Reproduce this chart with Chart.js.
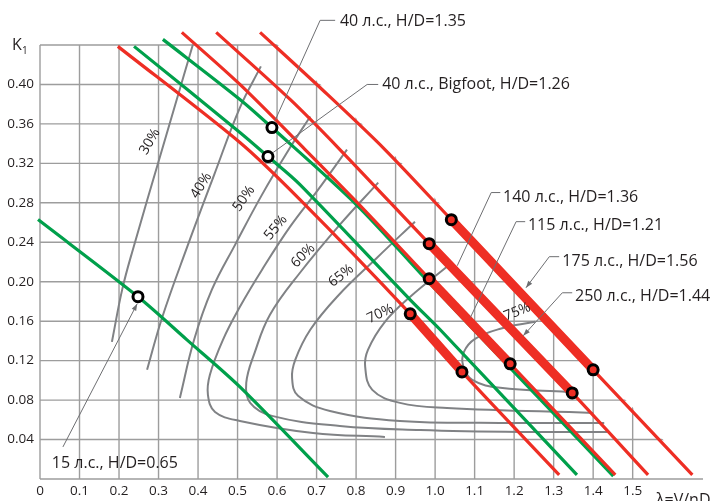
<!DOCTYPE html>
<html>
<head>
<meta charset="utf-8">
<script src="https://cdn.jsdelivr.net/npm/chart.js@4.4.1/dist/chart.umd.min.js"></script>
<style>
  html, body { margin: 0; padding: 0; background: #fff; }
  #wrap { width: 716px; height: 501px; }
</style>
</head>
<body>
<div id="wrap"><canvas id="propChart"></canvas></div>
<script>
// Axis ticks
const lambdaTicks = [0, 0.1, 0.2, 0.3, 0.4, 0.5, 0.6, 0.7, 0.8, 0.9, 1.0, 1.1, 1.2, 1.3, 1.4, 1.5];
const kTicks = [0.04, 0.08, 0.12, 0.16, 0.20, 0.24, 0.28, 0.32, 0.36, 0.40];
const kGrid = [0.04, 0.08, 0.12, 0.16, 0.20, 0.24, 0.28, 0.32, 0.36, 0.40, 0.44];

// Propeller curves, K1 vs lambda (red)
const redALambda = [0.197, 0.506, 0.658, 0.937, 1.068, 1.314];
const redAK = [0.4386, 0.3411, 0.2832, 0.1675, 0.1086, 0.0041];
const redDLambda = [0.359, 0.506, 0.671, 0.803, 0.985, 1.190, 1.456];
const redDK = [0.4528, 0.4000, 0.3340, 0.2802, 0.2030, 0.1168, 0.0041];
const redELambda = [0.446, 0.633, 0.759, 0.985, 1.347, 1.539];
const redEK = [0.4528, 0.3848, 0.3340, 0.2386, 0.0873, 0.0041];
const redFLambda = [0.557, 0.714, 0.873, 1.041, 1.400, 1.651];
const redFK = [0.4528, 0.3949, 0.3340, 0.2629, 0.1107, 0.0041];

// operating ranges on the red curves (index from, index to)
const opA = [3, 4];
const opD = [4, 5];
const opE = [3, 4];
const opF = [3, 4];

// green curves
const greenBLambda = [0.238, 0.506, 0.577, 0.658, 0.937, 1.013, 1.359];
const greenBK = [0.4386, 0.3513, 0.3269, 0.2985, 0.1817, 0.1513, 0.0041];
const greenCLambda = [0.311, 0.506, 0.587, 0.803, 0.985, 1.190, 1.451];
const greenCK = [0.4457, 0.3848, 0.3563, 0.2772, 0.1990, 0.1127, 0.0030];
const green15Lambda = [-0.005, 0.248, 0.372, 0.506, 0.729];
const green15K = [0.2630, 0.1848, 0.1411, 0.0934, 0.0020];

// points marked on the green curves (index)
const ptB = 2, ptC = 2, pt15 = 1;

// efficiency curves
const eff30Lambda = [0.182, 0.208, 0.235, 0.309, 0.387];
const eff30K = [0.139, 0.192, 0.2325, 0.334, 0.4406];
const eff40Lambda = [0.271, 0.309, 0.370, 0.441, 0.506, 0.559];
const eff40K = [0.1107, 0.1635, 0.2325, 0.3086, 0.3766, 0.4183];
const eff50Lambda = [0.354, 0.390, 0.435, 0.494, 0.562, 0.633, 0.684];
const eff50K = [0.0822, 0.1411, 0.1919, 0.2376, 0.2883, 0.3360, 0.3675];
const eff55Lambda = [0.777, 0.704, 0.633, 0.562, 0.506, 0.463, 0.430, 0.425, 0.443, 0.506, 0.691, 0.873];
const eff55K = [0.334, 0.2934, 0.2558, 0.2122, 0.1746, 0.1411, 0.1056, 0.0853, 0.068, 0.0589, 0.0467, 0.0426];
const eff60Lambda = [0.856, 0.759, 0.658, 0.582, 0.544, 0.522, 0.532, 0.587, 0.759, 0.962, 1.215, 1.435];
const eff60K = [0.3005, 0.2579, 0.2091, 0.1665, 0.1289, 0.0975, 0.0772, 0.064, 0.0538, 0.0497, 0.0477, 0.0477];
const eff65Lambda = [0.949, 0.853, 0.752, 0.684, 0.646, 0.638, 0.653, 0.734, 0.911, 1.165, 1.428];
const eff65K = [0.2609, 0.2244, 0.1848, 0.1513, 0.1208, 0.1025, 0.0843, 0.069, 0.0589, 0.0569, 0.0569];
const eff70Lambda = [1.033, 0.937, 0.873, 0.830, 0.823, 0.841, 0.911, 1.030, 1.400];
const eff70K = [0.2162, 0.1848, 0.1594, 0.131, 0.1137, 0.0904, 0.0772, 0.0721, 0.067];
const eff75Lambda = [1.253, 1.165, 1.101, 1.073, 1.071, 1.094, 1.165, 1.334];
const eff75K = [0.1594, 0.1523, 0.1421, 0.1289, 0.1147, 0.1005, 0.0924, 0.0883];

const effLabels = ['30%', '40%', '50%', '55%', '60%', '65%', '70%', '75%'];

const RED = '#ee2e24';
const GREEN = '#00a04b';
const GRAY = '#808285';
const TEXT = '#231f20';
const FONT = '"Open Sans", sans-serif';

const pts = (lam, k) => lam.map((v, i) => ({x: v, y: k[i]}));

function curve(lam, k, color, width, order) {
    return {
        data: pts(lam, k), showLine: true, borderColor: color, borderWidth: width,
        pointRadius: 0, tension: 0.3, clip: false, order: order
    };
}
function effCurve(lam, k) {
    return {
        data: pts(lam, k), showLine: true, borderColor: GRAY, borderWidth: 2,
        pointRadius: 0, tension: 0.4, clip: false, order: 20
    };
}
function opSegment(lam, k, r) {
    return curve(lam.slice(r[0], r[1] + 1), k.slice(r[0], r[1] + 1), RED, 9, 3);
}

const redLines = [[redALambda, redAK, opA], [redDLambda, redDK, opD], [redELambda, redEK, opE], [redFLambda, redFK, opF]];

const markerData = [], markerFill = [];
redLines.forEach(([lam, k, r]) => {
    r.forEach(i => { markerData.push({x: lam[i], y: k[i]}); markerFill.push(RED); });
});
[[greenBLambda, greenBK, ptB], [greenCLambda, greenCK, ptC], [green15Lambda, green15K, pt15]].forEach(([lam, k, i]) => {
    markerData.push({x: lam[i], y: k[i]}); markerFill.push('#ffffff');
});

const datasets = [
    effCurve(eff30Lambda, eff30K), effCurve(eff40Lambda, eff40K), effCurve(eff50Lambda, eff50K),
    effCurve(eff55Lambda, eff55K), effCurve(eff60Lambda, eff60K), effCurve(eff65Lambda, eff65K),
    effCurve(eff70Lambda, eff70K), effCurve(eff75Lambda, eff75K),
    curve(green15Lambda, green15K, GREEN, 3.2, 9),
    curve(greenBLambda, greenBK, GREEN, 3.2, 9),
    curve(greenCLambda, greenCK, GREEN, 3.2, 9),
    curve(redALambda, redAK, RED, 3.2, 8),
    curve(redDLambda, redDK, RED, 3.2, 8),
    curve(redELambda, redEK, RED, 3.2, 8),
    curve(redFLambda, redFK, RED, 3.2, 8),
    ...redLines.map(([lam, k, r]) => opSegment(lam, k, r)),
    {
        data: markerData, showLine: false, pointRadius: 5, pointBorderWidth: 3,
        pointBorderColor: '#000', pointBackgroundColor: markerFill, clip: false, order: 1
    }
];

// label placement (lambda, K1) and rotation
const effLabelPos = [[0.278, 0.3421, -60], [0.408, 0.2975, -58], [0.516, 0.2843, -55], [0.597, 0.2548, -50],
    [0.666, 0.2264, -45], [0.762, 0.2061, -38], [0.861, 0.1675, -25], [1.208, 0.1695, -22]];

const callouts = [
    {text: '40 л.с., H/D=1.35', at: [0.759, 0.4643], path: [[0.747, 0.4650], [0.709, 0.4650], [0.595, 0.3635]]},
    {text: '40 л.с., Bigfoot, H/D=1.26', at: [0.866, 0.4000], path: [[0.856, 0.4000], [0.828, 0.4000], [0.590, 0.3310]]},
    {text: '140 л.с., H/D=1.36', at: [1.172, 0.2853], path: [[1.165, 0.2904], [1.142, 0.2904], [1.056, 0.2162]]},
    {text: '115 л.с., H/D=1.21', at: [1.235, 0.2569], path: [[1.228, 0.2609], [1.205, 0.2609], [1.089, 0.1635]]},
    {text: '175 л.с., H/D=1.56', at: [1.322, 0.2203], path: [[1.314, 0.2254], [1.289, 0.2254], [1.230, 0.1939]], arrow: true},
    {text: '250 л.с., H/D=1.44', at: [1.354, 0.1848], path: [[1.347, 0.1888], [1.322, 0.1888], [1.223, 0.1452]], arrow: true},
    {text: '15 л.с., H/D=0.65', at: [0.030, 0.0162], path: [[0.058, 0.0325], [0.246, 0.1777]], arrow: true}
];

const gridPlugin = {
    id: 'clippedGrid',
    beforeDatasetsDraw(chart) {
        const {ctx, scales: {x, y}} = chart;
        const px = v => x.getPixelForValue(v), py = v => y.getPixelForValue(v);
        ctx.save();
        // grid only below the outer propeller curve
        ctx.beginPath();
        ctx.moveTo(px(0) - 2, py(0));
        ctx.lineTo(px(0) - 2, py(0.46));
        redFLambda.forEach((l, i) => ctx.lineTo(px(l) + 4, py(redFK[i])));
        ctx.lineTo(px(redFLambda[redFLambda.length - 1]) + 4, py(0));
        ctx.closePath();
        ctx.clip();
        ctx.strokeStyle = '#9d9d9d';
        ctx.lineWidth = 1.4;
        lambdaTicks.forEach(v => {
            ctx.beginPath(); ctx.moveTo(px(v), py(0)); ctx.lineTo(px(v), py(0.44)); ctx.stroke();
        });
        kGrid.forEach(v => {
            ctx.beginPath(); ctx.moveTo(px(0), py(v)); ctx.lineTo(x.right, py(v)); ctx.stroke();
        });
        ctx.restore();
        ctx.save();
        ctx.strokeStyle = '#9d9d9d';
        ctx.lineWidth = 1.6;
        ctx.beginPath(); ctx.moveTo(px(0), py(0)); ctx.lineTo(x.right, py(0)); ctx.stroke();
        ctx.restore();
    }
};

function arrowHead(ctx, x0, y0, x1, y1) {
    const a = Math.atan2(y1 - y0, x1 - x0), len = 7, w = 2.5;
    ctx.beginPath();
    ctx.moveTo(x1, y1);
    ctx.lineTo(x1 - len * Math.cos(a) + w * Math.sin(a), y1 - len * Math.sin(a) - w * Math.cos(a));
    ctx.lineTo(x1 - len * Math.cos(a) - w * Math.sin(a), y1 - len * Math.sin(a) + w * Math.cos(a));
    ctx.closePath();
    ctx.fill();
}

const labelPlugin = {
    id: 'labels',
    afterDatasetsDraw(chart) {
        const {ctx, scales: {x, y}} = chart;
        const px = v => x.getPixelForValue(v), py = v => y.getPixelForValue(v);
        ctx.save();
        ctx.fillStyle = TEXT;
        ctx.font = '14px ' + FONT;
        ctx.textAlign = 'center';
        ctx.textBaseline = 'middle';
        effLabels.forEach((t, i) => {
            const [l, k, rot] = effLabelPos[i];
            ctx.save();
            ctx.translate(px(l), py(k));
            ctx.rotate(rot * Math.PI / 180);
            ctx.fillText(t, 0, 0);
            ctx.restore();
        });
        // callouts
        ctx.strokeStyle = '#6d6e71';
        ctx.fillStyle = '#6d6e71';
        ctx.lineWidth = 1;
        callouts.forEach(c => {
            const p = c.path.map(([l, k]) => [px(l), py(k)]);
            ctx.beginPath();
            ctx.moveTo(p[0][0], p[0][1]);
            p.slice(1).forEach(q => ctx.lineTo(q[0], q[1]));
            ctx.stroke();
            if (c.arrow) {
                const n = p.length;
                arrowHead(ctx, p[n - 2][0], p[n - 2][1], p[n - 1][0], p[n - 1][1]);
            }
        });
        ctx.fillStyle = TEXT;
        ctx.font = '16px ' + FONT;
        ctx.textAlign = 'left';
        callouts.forEach(c => ctx.fillText(c.text, px(c.at[0]), py(c.at[1])));
        // axis titles
        ctx.font = '16px ' + FONT;
        ctx.textBaseline = 'alphabetic';
        ctx.fillText('K', 12, 50);
        ctx.font = '10px ' + FONT;
        ctx.fillText('1', 22, 54);
        ctx.font = '16px ' + FONT;
        ctx.fillText('λ=V/nD', 656, 505);
        ctx.restore();
    }
};

const ctx = document.getElementById('propChart').getContext('2d');
const propChart = new Chart(ctx, {
    type: 'scatter',
    data: {datasets: datasets},
    options: {
        responsive: true,
        maintainAspectRatio: false,
        animation: false,
        events: [],
        layout: {padding: {top: 45, right: 13, left: 0, bottom: 0}},
        plugins: {legend: {display: false}, tooltip: {enabled: false}},
        scales: {
            x: {
                type: 'linear', min: 0, max: 1.678,
                grid: {display: false, drawTicks: false},
                border: {display: false},
                afterBuildTicks: s => { s.ticks = lambdaTicks.map(v => ({value: v})); },
                afterFit: s => { s.height = 22; },
                ticks: {
                    padding: 4, maxRotation: 0, autoSkip: false, color: TEXT,
                    font: {family: FONT, size: 13.5},
                    callback: v => v === 0 ? '0' : v.toFixed(1)
                }
            },
            y: {
                type: 'linear', min: 0, max: 0.44,
                grid: {display: false, drawTicks: false},
                border: {display: false},
                afterBuildTicks: s => { s.ticks = kTicks.map(v => ({value: v})); },
                afterFit: s => { s.width = 40; },
                ticks: {
                    padding: 6, color: TEXT,
                    font: {family: FONT, size: 13.5},
                    callback: v => v.toFixed(2)
                }
            }
        }
    },
    plugins: [gridPlugin, labelPlugin]
});
</script>
</body>
</html>
